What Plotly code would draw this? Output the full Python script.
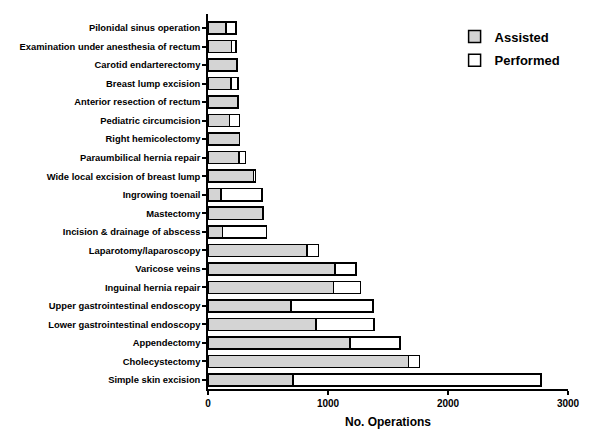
import plotly.graph_objects as go

# categories listed bottom to top
procedures = ['Simple skin excision', 'Cholecystectomy', 'Appendectomy',
              'Lower gastrointestinal endoscopy', 'Upper gastrointestinal endoscopy',
              'Inguinal hernia repair', 'Varicose veins', 'Laparotomy/laparoscopy',
              'Incision & drainage of abscess', 'Mastectomy', 'Ingrowing toenail',
              'Wide local excision of breast lump', 'Paraumbilical hernia repair',
              'Right hemicolectomy', 'Pediatric circumcision', 'Anterior resection of rectum',
              'Breast lump excision', 'Carotid endarterectomy',
              'Examination under anesthesia of rectum', 'Pilonidal sinus operation']
assisted = [709, 1670, 1184, 902, 690, 1045, 1059, 824, 120, 458, 109,
            380, 260, 263, 179, 246, 190, 238, 196, 151]
performed = [2068, 93, 416, 483, 687, 226, 176, 98, 369, 0, 341,
             14, 53, 0, 83, 8, 59, 4, 39, 84]
x_ticks = [0, 1000, 2000, 3000]

bold = dict(family='Liberation Sans, Arial', color='black', weight='bold')

fig = go.Figure()
fig.add_trace(go.Bar(y=procedures, x=assisted, name='Assisted', orientation='h',
                     legendgroup='a',
                     marker=dict(color='#d4d4d4', line=dict(color='black', width=1.5))))
fig.add_trace(go.Bar(y=procedures, x=performed, name='Performed', orientation='h',
                     legendgroup='b',
                     marker=dict(color='white', line=dict(color='black', width=1.5))))

# page body adds ~8px offset, margins compensate
fig.update_layout(
    barmode='stack', bargap=0.35,
    width=600, height=440,
    margin=dict(l=200, r=40, t=6, b=59),
    plot_bgcolor='white', paper_bgcolor='white',
    font=dict(size=9.4, **bold),
    legend=dict(x=0.685, y=0.98, xanchor='left', yanchor='top',
                font=dict(size=13, **bold), traceorder='grouped',
                tracegroupgap=4),
)
fig.update_xaxes(range=[0, 3000], tickvals=x_ticks, showgrid=False, zeroline=False,
                 showline=True, linecolor='black', linewidth=1.5, automargin=False,
                 ticks='outside', ticklen=4, tickwidth=1.5, tickcolor='black',
                 tickfont=dict(size=10, **bold),
                 title=dict(text='No. Operations', font=dict(size=12, **bold), standoff=10))
fig.update_yaxes(range=[-0.49, 19.76], showgrid=False, showline=True,
                 linecolor='black', linewidth=1.5, automargin=False,
                 ticks='outside', ticklen=4, tickwidth=1.5, tickcolor='black')

fig.write_html('out.html')
